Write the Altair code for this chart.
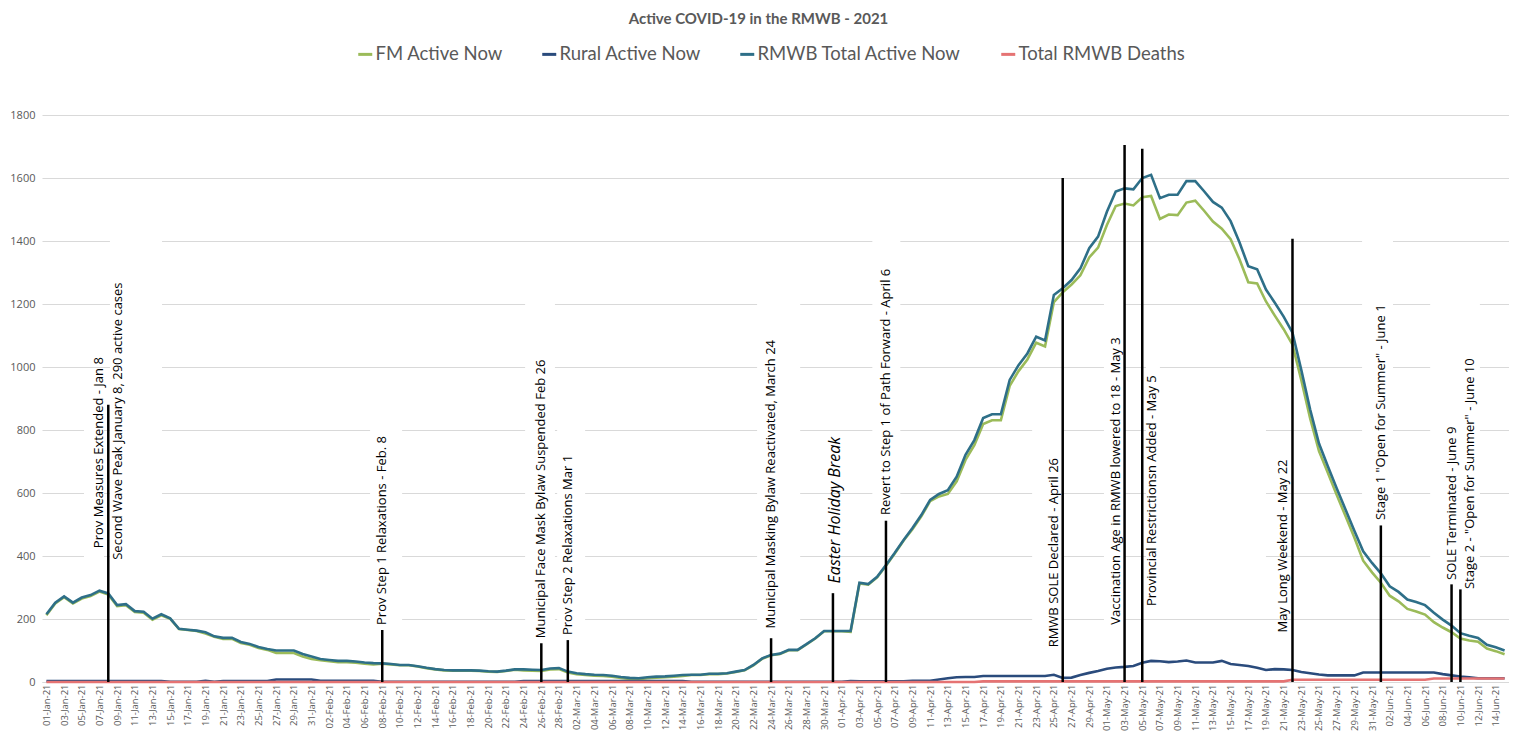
import altair as alt
import pandas as pd

# ---------------- data ----------------
dates = pd.date_range("2021-01-01", "2021-06-15", freq="D")

total_jan = [215, 252, 272, 252, 268, 276, 290, 281, 244, 247, 225, 223, 201, 215, 202, 169,
             166, 163, 158, 145, 140, 140, 127, 121, 111, 105, 100, 100, 100, 89, 81]
total_feb = [73, 70, 67, 67, 65, 62, 60, 59, 57, 54, 54, 50, 45, 41, 38, 37, 37, 37, 36, 34,
             33, 36, 40, 40, 39, 38, 43, 44]
total_mar = [33, 28, 25, 23, 22, 20, 16, 13, 12, 15, 17, 18, 20, 22, 23, 23, 26, 26, 28, 33,
             38, 54, 75, 86, 90, 102, 102, 120, 139, 162, 162]
total_apr = [162, 162, 315, 311, 334, 371, 410, 451, 489, 530, 578, 597, 609, 652, 721, 768,
             838, 850, 850, 959, 1006, 1043, 1096, 1084, 1229, 1250, 1276, 1313, 1377, 1414]
total_may = [1493, 1557, 1567, 1564, 1600, 1610, 1536, 1547, 1547, 1590, 1590, 1558, 1524, 1506,
             1463, 1396, 1320, 1310, 1246, 1204, 1160, 1109, 990, 865, 757, 685, 615, 548, 480,
             415, 378]
total_jun = [345, 304, 286, 262, 254, 244, 220, 198, 179, 155, 147, 140, 118, 110, 100]

fm_jan = [212, 249, 269, 249, 265, 273, 287, 278, 241, 244, 222, 220, 198, 212, 201, 168, 165,
          162, 154, 144, 137, 137, 124, 118, 108, 102, 92, 92, 92, 81, 73]
fm_feb = [69, 66, 63, 63, 61, 58, 56, 58, 56, 53, 53, 49, 44, 40, 37, 36, 36, 36, 35, 33, 32,
          35, 39, 37, 36, 35, 40, 41]
fm_mar = [30, 25, 22, 20, 19, 17, 13, 10, 9, 12, 14, 15, 17, 19, 22, 22, 25, 25, 27, 32, 37,
          53, 74, 85, 89, 101, 101, 119, 138, 161, 161]
fm_apr = [161, 159, 313, 309, 332, 369, 408, 449, 485, 526, 574, 589, 597, 637, 705, 752, 819,
          831, 831, 940, 987, 1024, 1077, 1065, 1206, 1237, 1262, 1291, 1348, 1379]
fm_may = [1451, 1511, 1519, 1513, 1539, 1543, 1470, 1484, 1482, 1522, 1528, 1496, 1462, 1439,
          1406, 1342, 1269, 1265, 1208, 1163, 1120, 1071, 958, 837, 733, 664, 594, 527, 459,
          385, 348]
fm_jun = [315, 274, 256, 232, 224, 214, 190, 173, 158, 138, 132, 128, 106, 98, 88]

rural_jan = [3, 3, 3, 3, 3, 3, 3, 3, 3, 3, 3, 3, 3, 3, 1, 1, 1, 1, 4, 1, 3, 3, 3, 3, 3, 3, 8,
             8, 8, 8, 8]
rural_feb = [4, 4, 4, 4, 4, 4, 4, 1, 1, 1, 1, 1, 1, 1, 1, 1, 1, 1, 1, 1, 1, 1, 1, 3, 3, 3, 3, 3]
rural_mar = [3, 3, 3, 3, 3, 3, 3, 3, 3, 3, 3, 3, 3, 3, 1, 1, 1, 1, 1, 1, 1, 1, 1, 1, 1, 1, 1,
             1, 1, 1, 1]
rural_apr = [1, 3, 2, 2, 2, 2, 2, 2, 4, 4, 4, 8, 12, 15, 16, 16, 19, 19, 19, 19, 19, 19, 19,
             19, 23, 13, 14, 22, 29, 35]
rural_may = [42, 46, 48, 51, 61, 67, 66, 63, 65, 68, 62, 62, 62, 67, 57, 54, 51, 45, 38, 41, 40,
             38, 32, 28, 24, 21, 21, 21, 21, 30, 30]
rural_jun = [30, 30, 30, 30, 30, 30, 30, 25, 21, 17, 15, 12, 12, 12, 12]

deaths_jan = [0] * 31
deaths_feb = [0] * 28
deaths_mar = [0] * 31
deaths_apr = [0, 0, 0, 0, 0, 0, 0, 0, 0, 0, 0, 0, 0, 0, 0, 0, 2, 2, 2, 2, 2, 2, 2, 2, 2, 2, 2,
              2, 2, 2]
deaths_may = [2, 2, 2, 2, 2, 2, 2, 2, 2, 2, 2, 2, 2, 2, 2, 2, 2, 2, 2, 2, 2, 7, 7, 7, 7, 7, 7,
              7, 7, 7, 7]
deaths_jun = [7, 7, 7, 7, 7, 7, 11, 11, 11, 11, 11, 11, 11, 11, 11]

series_names = ["FM Active Now", "Rural Active Now", "RMWB Total Active Now", "Total RMWB Deaths"]
series_colors = ["#9BBB59", "#2A4B7C", "#2E6F88", "#E57373"]
series_values = [
    fm_jan + fm_feb + fm_mar + fm_apr + fm_may + fm_jun,
    rural_jan + rural_feb + rural_mar + rural_apr + rural_may + rural_jun,
    total_jan + total_feb + total_mar + total_apr + total_may + total_jun,
    deaths_jan + deaths_feb + deaths_mar + deaths_apr + deaths_may + deaths_jun,
]

# event lines
event_dates = ["2021-01-08", "2021-02-08", "2021-02-26", "2021-03-01", "2021-03-24",
               "2021-03-31", "2021-04-06", "2021-04-26", "2021-05-03", "2021-05-05",
               "2021-05-22", "2021-06-01", "2021-06-09", "2021-06-10"]
event_tops = [880, 165, 123, 133, 139, 282, 512, 1600, 1705, 1693, 1407, 497, 310, 294]

# event labels (text, date, value where the text starts, side of the line)
label_texts = ["Prov Measures Extended - Jan 8",
               "Second Wave Peak January 8, 290 active cases",
               "Prov Step 1 Relaxations - Feb. 8",
               "Municipal Face Mask Bylaw Suspended Feb 26",
               "Prov Step 2 Relaxations Mar 1",
               "Municipal Masking Bylaw Reactivated, March 24",
               "Easter Holiday Break",
               "Revert to Step 1 of Path Forward - April 6",
               "RMWB SOLE Declared - April 26",
               "Vaccination Age in RMWB lowered to 18 - May 3",
               "Provincial Restrictionsn Added - May 5",
               "May Long Weekend - May 22",
               "Stage 1 \"Open for Summer\" - June 1",
               "SOLE Terminated - June 9",
               "Stage 2 - \"Open for Summer\" - June 10"]
label_dates = ["2021-01-08", "2021-01-08", "2021-02-08", "2021-02-26", "2021-03-01",
               "2021-03-24", "2021-03-31", "2021-04-06", "2021-04-26", "2021-05-03",
               "2021-05-05", "2021-05-22", "2021-06-01", "2021-06-09", "2021-06-10"]
label_bases = [425, 388, 181, 139, 149, 170, 313, 530, 110, 182, 241, 157, 514, 324, 295]
label_sides = ["left", "right", "center", "center", "center", "center", "italic", "center",
               "left", "left", "right", "left", "center", "center", "right"]

# white text-box backgrounds of the labels (they hide the gridlines behind them)
box_starts = ["2021-01-05T06:00:00Z", "2021-01-08T04:30:00Z", "2021-02-06T15:00:00Z",
              "2021-02-24T04:00:00Z", "2021-02-27T19:00:00Z", "2021-03-22T10:00:00Z",
              "2021-04-04T11:00:00Z", "2021-04-22T13:00:00Z", "2021-04-30T16:00:00Z",
              "2021-05-05T10:00:00Z", "2021-05-07T00:00:00Z", "2021-05-29T21:00:00Z",
              "2021-06-06T14:00:00Z"]
box_ends = ["2021-01-07T12:30:00Z", "2021-01-14T02:00:00Z", "2021-02-10T06:00:00Z",
            "2021-02-27T13:00:00Z", "2021-03-02T23:00:00Z", "2021-03-27T07:00:00Z",
            "2021-04-07T15:00:00Z", "2021-04-25T22:00:00Z", "2021-05-02T23:00:00Z",
            "2021-05-07T00:00:00Z", "2021-05-19T00:00:00Z", "2021-06-02T09:00:00Z",
            "2021-06-12T05:00:00Z"]
box_lows = [380, 380, 150, 120, 130, 150, 500, 90, 160, 220, 220, 490, 280]
box_highs = [900, 1450, 850, 1250, 830, 1250, 1420, 900, 1260, 1100, 900, 1450, 1300]

y_ticks = [0, 200, 400, 600, 800, 1000, 1200, 1400, 1600, 1800]

# ---------------- tables ----------------
rows = []
for name, vals in zip(series_names, series_values):
    for d, v in zip(dates, vals):
        rows.append({"date": d.strftime("%Y-%m-%d"), "series": name, "value": v})
df = pd.DataFrame(rows)

ev = pd.DataFrame({"date": event_dates, "value": [0] * len(event_dates), "top": event_tops})
lab = pd.DataFrame({"date": label_dates, "text": label_texts, "value": label_bases,
                    "side": label_sides})
boxes = pd.DataFrame({"date": box_starts, "end": box_ends, "value": box_lows,
                      "high": box_highs})


def ms(s):
    return int(pd.Timestamp(s).value // 10**6)


x_domain = [ms("2020-12-31 12:00"), ms("2021-06-15 12:00")]
x_ticks = [ms(d) for d in dates[::2]]

FONT = "Open Sans"
GRAY = "#595959"

x_scale = alt.Scale(type="utc", domain=x_domain, nice=False)
y_scale = alt.Scale(domain=[0, 1800], nice=False, zero=True)
x_axis = alt.Axis(values=x_ticks, labelExpr="utcFormat(datum.value, '%d-%b-%y')",
                  labelAngle=270, labelFont=FONT, labelFontSize=9.5, labelColor=GRAY,
                  labelPadding=2, grid=False, ticks=False, domainColor="#D9D9D9",
                  domainWidth=1, labelOverlap=False, labelBound=False, labelFlush=False)
y_axis = alt.Axis(values=y_ticks, format="d", labelFont=FONT, labelFontSize=11,
                  labelColor=GRAY, labelPadding=7, grid=True, gridColor="#D9D9D9",
                  gridWidth=1, domain=False, ticks=False)


def X(field="date"):
    return alt.X(f"{field}:T", scale=x_scale, axis=x_axis, title=None)


def Y(field="value"):
    return alt.Y(f"{field}:Q", scale=y_scale, axis=y_axis, title=None)


box_layer = alt.Chart(boxes).mark_rect(color="white").encode(
    x=X(), x2="end:T", y=Y(), y2="high:Q")

lines = alt.Chart(df).mark_line(strokeWidth=2.6).encode(
    x=X(),
    y=Y(),
    color=alt.Color("series:N", sort=series_names,
                    scale=alt.Scale(domain=series_names, range=series_colors),
                    legend=alt.Legend(title=None, orient="none", direction="horizontal",
                                      legendX=314, legendY=-70, symbolType="stroke",
                                      symbolStrokeWidth=3, symbolSize=196,
                                      labelFont="Lato", labelFontSize=18.5, labelColor=GRAY,
                                      labelOffset=1, columnPadding=33, labelLimit=0)),
)

rules = alt.Chart(ev).mark_rule(color="black", strokeWidth=2.5).encode(
    x=X(), y=Y(), y2="top:Q")


def text_layer(side, dy, italic=False, size=13):
    return alt.Chart(lab).transform_filter(alt.datum.side == side).mark_text(
        angle=270, align="left", baseline="middle", dy=dy, font=FONT, fontSize=size,
        fontStyle="italic" if italic else "normal", color="black",
    ).encode(x=X(), y=Y(), text="text:N")


texts = [text_layer("left", -9), text_layer("center", 0), text_layer("right", 10),
         text_layer("italic", 2, italic=True, size=16)]

chart = alt.layer(box_layer, lines, rules, *texts).properties(
    width=1467, height=567,
    padding={"left": 34, "top": 107, "right": 0, "bottom": 50},
    autosize=alt.AutoSizeParams(type="none"),
    title=alt.TitleParams("Active COVID-19 in the RMWB - 2021", font="Lato", fontSize=15,
                          fontWeight="bold", color=GRAY, anchor="middle", dx=-17,
                          offset=18),
).configure_view(stroke=None)

chart.save("out.html", embed_options={"renderer": "svg", "actions": False})
